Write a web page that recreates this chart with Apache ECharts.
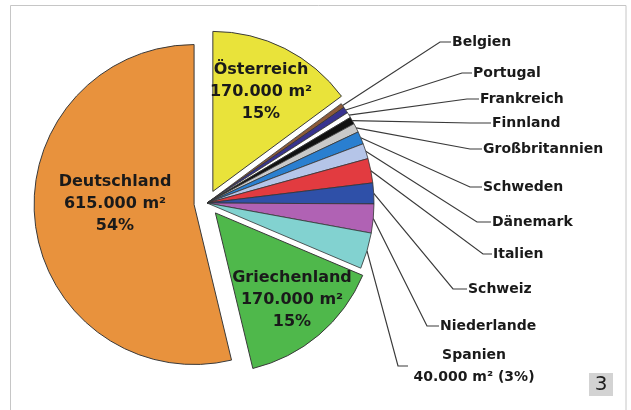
<!DOCTYPE html>
<html><head><meta charset="utf-8">
<script src="https://cdn.jsdelivr.net/npm/echarts@6/dist/echarts.min.js"></script>
<style>html,body{margin:0;padding:0;background:#fff}#c{width:631px;height:410px}</style>
</head><body><div id="c"></div>
<script>
// ---- data ----
const bigNames = ['Österreich', 'Griechenland', 'Deutschland'];
const bigValues = [170000, 170000, 615000];
const smallNames = ['Belgien','Portugal','Frankreich','Finnland','Großbritannien','Schweden','Dänemark','Italien','Schweiz','Niederlande','Spanien'];
const smallValues = [5000, 7000, 6000, 8000, 10000, 14000, 17000, 27000, 23000, 32000, 40000];

// ---- styles / layout (not data) ----
const bigColors = ['#E9E33A', '#4FB84B', '#E8923D'];
const smallColors = ['#8C5B3A','#38338F','#FFFFFF','#111111','#C9C9C9','#2A7FD0','#B5C5E8','#E23B40','#2F50A8','#B062B4','#82D2D0'];
// label centre per big slice, in bigNames order
const bigLabelPos = [[261, 92], [292, 300], [115, 204]];
// [leader corner x, y, text x, align, leader end x]
const smallLabelPos = [
  [440, 42, 452], [462, 73, 473], [467, 99, 480], [470, 123, 492], [470, 149, 483],
  [470, 187, 483], [477, 222, 492], [483, 254, 493], [453, 289, 468], [427, 326, 440],
  [398, 366, 474, 'center', 408]
];

const total = bigValues.reduce((a,b)=>a+b,0) + smallValues.reduce((a,b)=>a+b,0);
const fmt = v => String(v).replace(/\B(?=(\d{3})+(?!\d))/g, '.');
const pct = v => Math.round(v / total * 100);
const hidden = { color: 'rgba(0,0,0,0)', borderWidth: 0 };
const smallSum = smallValues.reduce((a,b)=>a+b,0);

// series 1: the three exploded slices (drawn), small slices as a hidden gap
const s1 = [
  { name: bigNames[0], value: bigValues[0], selected: true, itemStyle: { color: bigColors[0] } },
  { name: '_rest', value: smallSum, itemStyle: hidden },
  { name: bigNames[1], value: bigValues[1], selected: true, itemStyle: { color: bigColors[1] } },
  { name: bigNames[2], value: bigValues[2], selected: true, itemStyle: { color: bigColors[2] } }
];
// series 2: small slices (drawn) + transparent big slices that only carry labels
const s2 = [{ name: bigNames[0], value: bigValues[0], big: 0, itemStyle: hidden, labelLine: { show: false } }];
smallNames.forEach((n, i) => s2.push({ name: n, value: smallValues[i], small: i, itemStyle: { color: smallColors[i] } }));
s2.push({ name: bigNames[1], value: bigValues[1], big: 1, itemStyle: hidden, labelLine: { show: false } });
s2.push({ name: bigNames[2], value: bigValues[2], big: 2, itemStyle: hidden, labelLine: { show: false } });

const center = [207, 203];
const chart = echarts.init(document.getElementById('c'), null, { renderer: 'canvas' });
chart.setOption({
  animation: false,
  backgroundColor: '#ffffff',
  graphic: [
    { type: 'rect', z: -10, silent: true, shape: { x: 10.5, y: 5.5, width: 615.5, height: 440 }, style: { fill: null, stroke: '#c6c6c6', lineWidth: 1 } },
    { type: 'rect', silent: true, shape: { x: 589, y: 373, width: 24, height: 23 }, style: { fill: '#d3d3d3' } },
    { type: 'text', silent: true, x: 601, y: 385, style: { text: '3', font: '20px "DejaVu Sans"', fill: '#1e1e1e', align: 'center', verticalAlign: 'middle' } }
  ],
  series: [
    {
      type: 'pie', center: center, radius: 160, startAngle: 90, clockwise: true,
      selectedMode: 'multiple', selectedOffset: 13, avoidLabelOverlap: false,
      emphasis: { disabled: true }, silent: true,
      itemStyle: { borderColor: '#3a3a3a', borderWidth: 1 },
      label: { show: false }, labelLine: { show: false },
      data: s1
    },
    {
      type: 'pie', center: center, radius: 167, startAngle: 90, clockwise: true,
      avoidLabelOverlap: false, emphasis: { disabled: true }, silent: true,
      itemStyle: { borderColor: '#333333', borderWidth: 0.8 },
      label: {
        show: true, position: 'outside', color: '#1a1a1a', fontFamily: 'DejaVu Sans', fontWeight: 'bold',
        fontSize: 14, lineHeight: 22, align: 'center',
        formatter: p => {
          const d = p.data;
          if (d.big != null) return '{b|' + p.name + '}\n{b|' + fmt(p.value) + ' m²}\n{b|' + pct(p.value) + '%}';
          if (p.name === 'Spanien') return p.name + '\n' + fmt(p.value) + ' m² (' + pct(p.value) + '%)';
          return p.name;
        },
        rich: { b: { fontSize: 16, lineHeight: 22, fontWeight: 'bold', fontFamily: 'DejaVu Sans', color: '#1a1a1a', align: 'center' } }
      },
      labelLine: { show: true, length: 20, length2: 10, lineStyle: { color: '#3a3a3a', width: 1.2 } },
      labelLayout: p => {
        const d = s2[p.dataIndex];
        if (d.big != null) {
          const B = bigLabelPos[d.big];
          return { x: B[0], y: B[1], align: 'center', verticalAlign: 'middle' };
        }
        const L = smallLabelPos[d.small];
        const start = (p.labelLinePoints && p.labelLinePoints[0]) || [L[0], L[1]];
        const endX = L[4] != null ? L[4] : L[2] - 1;
        return {
          x: L[2], y: L[1], align: L[3] || 'left', verticalAlign: 'middle',
          labelLinePoints: [start, [L[0], L[1]], [endX, L[1]]]
        };
      },
      data: s2
    }
  ]
});
</script></body></html>
